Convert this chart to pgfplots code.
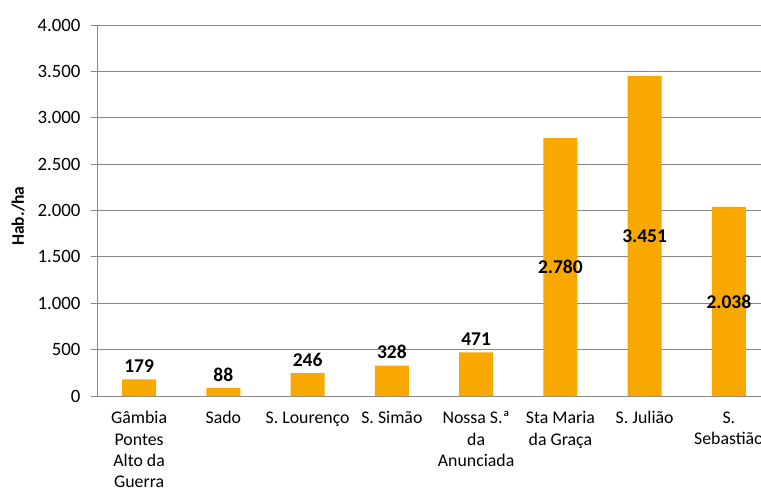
\documentclass[border=0pt]{standalone}
\usepackage{fontspec}
\setmainfont{Carlito}
\usepackage{pgfplots}
\pgfplotsset{compat=1.18}
\definecolor{BarOrange}{HTML}{F9A800}
\definecolor{GridGray}{HTML}{888888}

\begin{document}
\begin{tikzpicture}
% page = 761 x 488, axis box starts at (97,396) px from top-left; right end is cropped
\useasboundingbox (-97pt,-92pt) rectangle (664pt,396pt);
\begin{axis}[
    scale only axis,
    width=674pt,
    height=371pt,
    xmin=-0.5, xmax=7.5,
    ymin=0, ymax=4000,
    ybar,
    bar width=34pt,
    axis lines*=left,
    axis line style={GridGray, line width=0.9pt},
    ytick={0,500,...,4000},
    scaled y ticks=false,
    xtick={0,...,7},
    xticklabels={
        {Gâmbia\\Pontes\\Alto da\\Guerra},
        Sado,
        S. Lourenço,
        S. Simão,
        {Nossa S.ª\\da\\Anunciada},
        {Sta Maria\\da Graça},
        S. Julião,
        {S.\\Sebastião}
    },
    xtick style={draw=none},
    ytick style={GridGray, line width=0.9pt},
    tick align=outside,
    major tick length=6pt,
    ymajorgrids=true,
    grid style={GridGray, line width=0.9pt},
    /pgf/number format/1000 sep={.},
    /pgf/number format/assume math mode=true,
    yticklabel style={font=\fontsize{18.8}{22}\selectfont, xshift=-7pt},
    xticklabel style={font=\fontsize{17.8}{21.3}\selectfont, align=center, anchor=north, yshift=-6pt},
    every axis y label/.style={at={(axis description cs:-0.117,0.485)}, rotate=90, anchor=center,
        font=\fontsize{17.5}{20}\selectfont\bfseries},
    ylabel={Hab./ha},
]
% small values: label above the bar
\addplot[fill=BarOrange, draw=none, bar shift=0pt,
    nodes near coords,
    every node near coord/.append style={font=\fontsize{19.5}{22}\selectfont\bfseries, text=black,
        yshift=3pt}]
    coordinates {(0,179) (1,88) (2,246) (3,328) (4,471)};
% large values: label in the middle of the bar
\addplot[fill=BarOrange, draw=none, bar shift=0pt,
    visualization depends on={y \as \rawy},
    nodes near coords,
    every node near coord/.append style={font=\fontsize{19.5}{22}\selectfont\bfseries, text=black,
        anchor=center, shift={(axis direction cs:0,-\rawy/2)}}]
    coordinates {(5,2780) (6,3451) (7,2038)};
\end{axis}
\end{tikzpicture}
\end{document}
